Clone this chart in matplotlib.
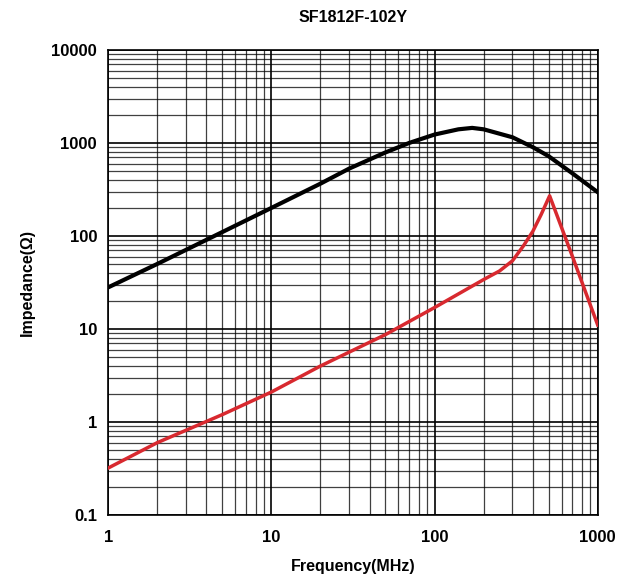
import numpy as np
import matplotlib
matplotlib.use("Agg")
from matplotlib import pyplot as plt
from matplotlib.ticker import FixedLocator, FuncFormatter, LogLocator

# Impedance curve (black), frequency in MHz
f_z = [1, 2, 5, 10, 20, 30, 50, 70, 100, 140, 170, 200, 300, 400, 500, 700, 1000]
z = [28, 50, 110, 200, 365, 530, 790, 1000, 1230, 1400, 1450, 1400, 1150, 900, 720, 470, 295]

# Resistance curve (red)
f_r = [1, 2, 5, 10, 20, 50, 100, 200, 250, 300, 350, 400, 450, 507, 560, 700, 1000]
r = [0.32, 0.6, 1.2, 2.1, 4, 8.7, 17, 34, 42, 54, 78, 112, 170, 270, 170, 60, 11]

x_ticks = [1, 10, 100, 1000]
y_ticks = [0.1, 1, 10, 100, 1000, 10000]

plt.rcParams['font.family'] = ['Liberation Sans', 'DejaVu Sans']

fig = plt.figure(figsize=(6.4, 5.8), dpi=100)
ax = fig.add_axes([0.169, 0.112, 0.765, 0.802])

ax.set_xscale('log')
ax.set_yscale('log')
ax.set_xlim(1, 1000)
ax.set_ylim(0.1, 10000)

# full log grid, like the datasheet paper
ax.xaxis.set_major_locator(FixedLocator(x_ticks))
ax.yaxis.set_major_locator(FixedLocator(y_ticks))
ax.xaxis.set_minor_locator(LogLocator(base=10, subs=np.arange(2, 10)))
ax.yaxis.set_minor_locator(LogLocator(base=10, subs=np.arange(2, 10)))
ax.grid(which='major', color='black', linewidth=1.2)
ax.grid(which='minor', color='black', linewidth=0.9, alpha=0.75)

fmt = FuncFormatter(lambda v, p: '{:g}'.format(v))
ax.xaxis.set_major_formatter(fmt)
ax.yaxis.set_major_formatter(fmt)
ax.tick_params(which='both', length=0, labelsize=12, pad=8)
ax.tick_params(axis='x', pad=11)
for lbl in ax.get_xticklabels() + ax.get_yticklabels():
    lbl.set_fontweight('bold')

ax.plot(f_z, z, color='black', linewidth=3, zorder=3)
ax.plot(f_r, r, color='#d8292f', linewidth=2.5, zorder=3)

for spine in ax.spines.values():
    spine.set_color('black')
    spine.set_linewidth(1.2)

ax.set_title('SF1812F-102Y', fontweight='bold', fontsize=11.5, pad=20)
ax.set_xlabel('Frequency(MHz)', fontweight='bold', fontsize=11.5, labelpad=10)
ax.set_ylabel('Impedance(\u03a9)', fontweight='bold', fontsize=11.5, labelpad=12)

plt.savefig('out.png', dpi=100)
